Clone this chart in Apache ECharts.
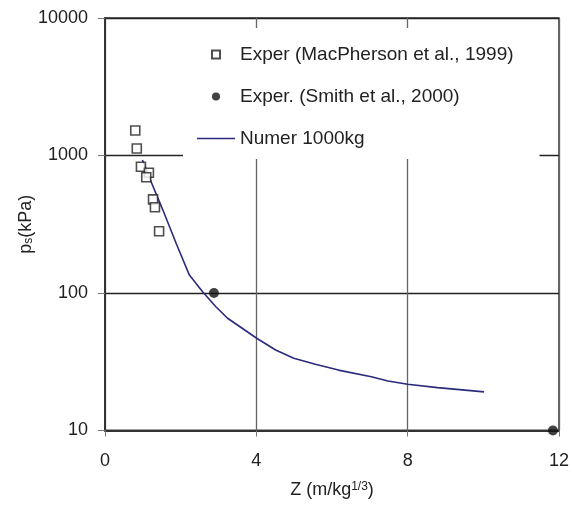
<!DOCTYPE html>
<html>
<head>
<meta charset="utf-8">
<script src="https://cdn.jsdelivr.net/npm/echarts@6/dist/echarts.min.js"></script>
<style>
  html, body { margin: 0; padding: 0; background: #fff; }
  #chart { width: 572px; height: 506px; }
</style>
</head>
<body>
<div id="chart"></div>
<script>
// Scaled distance Z (m/kg^1/3) and peak overpressure ps (kPa)
const macphersonZ = [0.80, 0.84, 0.95, 1.16, 1.09, 1.27, 1.32, 1.43];
const macphersonP = [1520, 1125, 829, 750, 694, 480, 420, 281];

const smithZ = [2.88, 11.84];
const smithP = [100, 10];

const numerZ = [0.99, 1.18, 1.53, 1.88, 2.23, 2.58, 2.93, 3.24, 4.02, 4.51, 4.99, 5.56, 6.17, 7.04, 7.48, 8.0, 8.79, 10.02];
const numerP = [927, 683, 401, 230, 135, 102, 79.5, 65.5, 46.7, 38.5, 33.5, 30.3, 27.5, 24.6, 22.9, 21.7, 20.5, 19.1];

const xTicks = [0, 4, 8, 12];
const yTicks = [10, 100, 1000, 10000];

const seriesNames = [
  'Exper (MacPherson et al., 1999)',
  'Exper. (Smith et al., 2000)',
  'Numer 1000kg'
];

const pairs = (xs, ys) => xs.map((x, i) => [x, ys[i]]);
const FONT = '"Liberation Sans", Arial, sans-serif';

const chart = echarts.init(document.getElementById('chart'), null, { renderer: 'canvas' });

chart.setOption({
  animation: false,
  backgroundColor: '#fff',
  textStyle: { fontFamily: FONT },
  grid: {
    left: 105, right: 10, top: 18, bottom: 75.5,
    show: true, borderColor: '#333', borderWidth: 1.5,
    backgroundColor: 'transparent'
  },
  legend: {
    // legend icons: hollow square, filled dot, plain line sample
    data: [
      { name: seriesNames[0], icon: 'path://M0,0H8V8H0Z' },
      { name: seriesNames[1], icon: 'circle' },
      { name: seriesNames[2], icon: 'path://M0,0H38V1.6H0Z' }
    ],
    orient: 'vertical',
    left: 183, top: 28,
    padding: [17, 26, 11, 14],
    itemGap: 23,
    itemWidth: 38, itemHeight: 8,
    symbolKeepAspect: true,
    backgroundColor: '#fff',
    selectedMode: false,
    textStyle: { fontFamily: FONT, fontSize: 19, color: '#222' }
  },
  xAxis: {
    type: 'value',
    min: xTicks[0], max: xTicks[xTicks.length - 1], interval: 4,
    name: '{b|Z (m/kg}{sup|1/3}{b|)}',
    nameLocation: 'middle',
    nameGap: 50,
    nameTextStyle: {
      rich: {
        b: { fontFamily: FONT, fontSize: 18, color: '#222' },
        sup: { fontFamily: FONT, fontSize: 12, color: '#222', verticalAlign: 'top', padding: [0, 0, 8, 0] }
      }
    },
    axisLine: { lineStyle: { color: '#333', width: 2 } },
    axisTick: { length: 6, lineStyle: { color: '#777' } },
    axisLabel: { fontFamily: FONT, fontSize: 18, color: '#222', margin: 22 },
    splitLine: { show: true, lineStyle: { color: '#666', width: 1.3 } }
  },
  yAxis: {
    type: 'log', logBase: 10,
    min: yTicks[0], max: yTicks[yTicks.length - 1],
    name: '{b|p}{sub|s}{b|(kPa)}',
    nameLocation: 'middle',
    nameGap: 70,
    nameMoveOverlap: false,
    nameTextStyle: {
      rich: {
        b: { fontFamily: FONT, fontSize: 18, color: '#222' },
        sub: { fontFamily: FONT, fontSize: 12, color: '#222', verticalAlign: 'bottom', lineHeight: 16 }
      }
    },
    axisLine: { lineStyle: { color: '#333', width: 2 } },
    axisTick: { length: 7, lineStyle: { color: '#777' } },
    axisLabel: {
      fontFamily: FONT, fontSize: 18, color: '#222', margin: 17,
      formatter: v => String(Math.round(v))
    },
    minorTick: { show: false },
    splitLine: { show: true, lineStyle: { color: '#222', width: 1.3 } }
  },
  series: [
    {
      name: seriesNames[0],
      type: 'scatter',
      data: pairs(macphersonZ, macphersonP),
      symbol: 'rect', symbolSize: 9,
      itemStyle: { color: '#fff', borderColor: '#222', borderWidth: 1.6 },
      z: 5
    },
    {
      name: seriesNames[1],
      type: 'scatter',
      data: pairs(smithZ, smithP),
      symbol: 'circle', symbolSize: 10,
      clip: false,
      itemStyle: { color: '#111' },
      z: 5
    },
    {
      name: seriesNames[2],
      type: 'line',
      data: pairs(numerZ, numerP),
      symbol: 'none', showSymbol: false,
      lineStyle: { color: '#2b2a7c', width: 1.6 },
      itemStyle: { color: '#2b2a7c' },
      z: 4
    }
  ]
});
</script>
</body>
</html>
